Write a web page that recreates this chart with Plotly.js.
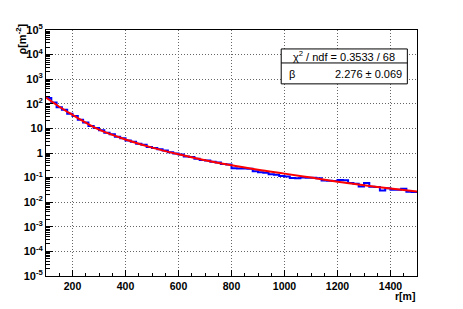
<!DOCTYPE html>
<html>
<head>
<meta charset="utf-8">
<script src="https://cdn.plot.ly/plotly-3.0.1.min.js"></script>
<style>html,body{margin:0;padding:0;background:#fff;}#chart{width:463px;height:309px;}</style>
</head>
<body>
<div id="chart"></div>
<script>
// Histogram: 70 bins of 20 m, from 100 m to 1500 m
var binStart = 100;
var binWidth = 20;
var histValues = [
  174, 112, 72.4, 57.5, 39.8, 31.6, 22.4, 17.4, 12.6, 10.5,
  8.32, 6.61, 5.75, 4.57, 3.98, 3.24, 2.88, 2.40, 2.14, 1.74,
  1.58, 1.41, 1.26, 1.07, 0.955, 0.871, 0.724, 0.692, 0.589, 0.525,
  0.501, 0.437, 0.407, 0.355, 0.339, 0.240, 0.234, 0.234, 0.229, 0.182,
  0.166, 0.158, 0.138, 0.132, 0.117, 0.112, 0.0955, 0.0933, 0.100, 0.0977,
  0.0977, 0.0933, 0.0759, 0.0741, 0.0724, 0.0794, 0.0776, 0.0603, 0.0562, 0.0437,
  0.0603, 0.0427, 0.0417, 0.0302, 0.0372, 0.0324, 0.0324, 0.0355, 0.0263, 0.0257
];

// Fit curve
var fitR   = [100, 150, 200, 250, 300, 400, 500, 600, 700, 800, 900, 1000, 1100, 1200, 1300, 1400, 1500];
var fitRho = [178, 76, 35.5, 17, 8.9, 3.55, 1.66, 0.89, 0.51, 0.316, 0.209, 0.145, 0.1, 0.068, 0.049, 0.036, 0.027];

var yTickVals = [1e-5, 1e-4, 1e-3, 1e-2, 1e-1, 1, 10, 1e2, 1e3, 1e4, 1e5];
var yTickText = ['10<sup>-5</sup>', '10<sup>-4</sup>', '10<sup>-3</sup>', '10<sup>-2</sup>', '10<sup>-1</sup>',
                 '1', '10', '10<sup>2</sup>', '10<sup>3</sup>', '10<sup>4</sup>', '10<sup>5</sup>'];

var chiText = '\u03c7<sup>2</sup> / ndf = 0.3533 / 68';
var betaLabel = '\u03b2';
var betaText = '2.276 \u00b1 0.069';

// build step-histogram arrays from bin definition
var hx = [], hy = [];
for (var i = 0; i < histValues.length; i++) {
  hx.push(binStart + i * binWidth);
  hy.push(histValues[i]);
}
hx.push(binStart + histValues.length * binWidth);
hy.push(histValues[histValues.length - 1]);

var font = 'Liberation Sans, Arial, Helvetica, sans-serif';

var traces = [
  {
    x: hx, y: hy, type: 'scatter', mode: 'lines',
    line: {shape: 'hv', color: '#0000ff', width: 2},
    hoverinfo: 'skip'
  },
  {
    x: fitR, y: fitRho, type: 'scatter', mode: 'lines',
    line: {shape: 'spline', color: '#ff0000', width: 2},
    hoverinfo: 'skip'
  }
];

var layout = {
  width: 463, height: 309,
  margin: {l: 46, r: 46, t: 30, b: 32.5, pad: 0},
  paper_bgcolor: '#ffffff', plot_bgcolor: '#ffffff',
  showlegend: false,
  font: {family: font, size: 11, color: '#000'},
  xaxis: {
    range: [100, 1500], tick0: 0, dtick: 200,
    ticks: 'inside', ticklen: 6, tickcolor: '#000', tickwidth: 1,
    showline: true, linecolor: '#000', linewidth: 1, mirror: true,
    showgrid: true, gridcolor: '#666', griddash: '1px,2px', gridwidth: 1,
    zeroline: false,
    tickfont: {family: font, size: 10.5, weight: 'bold'},
    minor: {dtick: 50, ticks: 'inside', ticklen: 3, tickcolor: '#000', showgrid: false}
  },
  yaxis: {
    type: 'log', range: [-5, 5],
    tickmode: 'array', tickvals: yTickVals, ticktext: yTickText,
    ticks: 'inside', ticklen: 7, tickcolor: '#000', tickwidth: 1,
    showline: true, linecolor: '#000', linewidth: 1, mirror: true,
    showgrid: true, gridcolor: '#666', griddash: '1px,2px', gridwidth: 1,
    zeroline: false,
    tickfont: {family: font, size: 11, weight: 'bold'},
    minor: {dtick: 'D1', ticks: 'inside', ticklen: 4, tickcolor: '#000', showgrid: false}
  },
  shapes: [
    {type: 'rect', xref: 'paper', yref: 'paper', x0: 0.634, x1: 0.974, y0: 0.781, y1: 0.923,
     line: {color: '#000', width: 1}, fillcolor: '#fff', layer: 'above'},
    {type: 'line', xref: 'paper', yref: 'paper', x0: 0.634, x1: 0.974, y0: 0.866, y1: 0.866,
     line: {color: '#000', width: 1}, layer: 'above'}
  ],
  annotations: [
    {text: chiText, xref: 'paper', yref: 'paper', x: 0.804, y: 0.895, xanchor: 'center', yanchor: 'middle',
     showarrow: false, font: {family: font, size: 11}},
    {text: betaLabel, xref: 'paper', yref: 'paper', x: 0.65, y: 0.823, xanchor: 'left', yanchor: 'middle',
     showarrow: false, font: {family: font, size: 11}},
    {text: betaText, xref: 'paper', yref: 'paper', x: 0.966, y: 0.823, xanchor: 'right', yanchor: 'middle',
     showarrow: false, font: {family: font, size: 11}},
    {text: 'r[m]', xref: 'paper', yref: 'paper', x: 1.0, y: -0.082, xanchor: 'right', yanchor: 'middle',
     showarrow: false, font: {family: font, size: 10.5, weight: 'bold'}},
    {text: '\u03c1[m<sup>-2</sup>]', xref: 'paper', yref: 'paper', x: -0.066, y: 0.963, xanchor: 'center', yanchor: 'middle',
     textangle: -90, showarrow: false, font: {family: font, size: 11, weight: 'bold'}}
  ]
};

Plotly.newPlot('chart', traces, layout, {staticPlot: true, displayModeBar: false});
</script>
</body>
</html>
